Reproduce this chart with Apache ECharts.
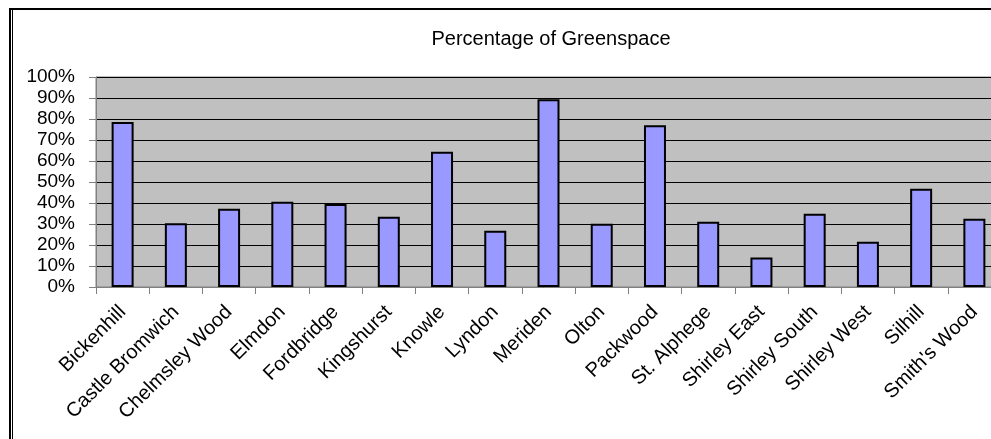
<!DOCTYPE html>
<html>
<head>
<meta charset="utf-8">
<script src="https://cdn.jsdelivr.net/npm/echarts@6/dist/echarts.min.js"></script>
<style>html,body{margin:0;padding:0;background:#fff}#c{width:991px;height:439px}</style>
</head>
<body>
<div id="c"></div>
<script>
var categories = ["Bickenhill","Castle Bromwich","Chelmsley Wood","Elmdon","Fordbridge","Kingshurst","Knowle","Lyndon","Meriden","Olton","Packwood","St. Alphege","Shirley East","Shirley South","Shirley West","Silhill","Smith's Wood"];
var greenspace = [78.6, 30.3, 37.3, 40.6, 39.5, 33.5, 64.4, 26.8, 89.4, 30.1, 77.0, 31.1, 14.0, 34.9, 21.6, 46.8, 32.5];
var yTicks = [0, 10, 20, 30, 40, 50, 60, 70, 80, 90, 100];
var titleText = "Percentage of Greenspace";

var FONT = "Liberation Sans, Arial, sans-serif";
var chart = echarts.init(document.getElementById('c'), null, {renderer: 'canvas'});
chart.setOption({
  animation: false,
  backgroundColor: '#fff',
  title: {
    text: titleText,
    left: 551, top: 29, textAlign: 'center', padding: 0,
    textStyle: {fontFamily: FONT, fontSize: 20, fontWeight: 'normal', color: '#000'}
  },
  graphic: [
    {type: 'line', shape: {x1: 9, y1: 9, x2: 991, y2: 9}, style: {stroke: '#000', lineWidth: 2}, silent: true},
    {type: 'line', shape: {x1: 10, y1: 8, x2: 10, y2: 439}, style: {stroke: '#000', lineWidth: 2}, silent: true},
    {type: 'line', shape: {x1: 12.5, y1: 10, x2: 12.5, y2: 439}, style: {stroke: '#000', lineWidth: 1}, silent: true}
  ],
  grid: {left: 96, top: 77, width: 905, height: 210, outerBoundsMode: 'none', show: true, backgroundColor: '#C0C0C0', borderColor: '#808080', borderWidth: 1, containLabel: false},
  xAxis: {
    type: 'category', data: categories, boundaryGap: true,
    axisLine: {show: true, lineStyle: {color: '#808080', width: 1}},
    axisTick: {show: true, alignWithLabel: false, length: 7, lineStyle: {color: '#808080'}},
    axisLabel: {interval: 0, rotate: 45, margin: 22, fontFamily: FONT, fontSize: 20, color: '#000'},
    splitLine: {show: false}
  },
  yAxis: {
    type: 'value', min: yTicks[0], max: yTicks[yTicks.length - 1], interval: 10,
    axisLine: {show: true, lineStyle: {color: '#808080', width: 1}},
    axisTick: {show: true, inside: false, length: 7, lineStyle: {color: '#808080'}},
    axisLabel: {margin: 21, fontFamily: FONT, fontSize: 19, color: '#000', formatter: function (v) { return v + '%'; }},
    splitLine: {show: true, lineStyle: {color: '#000', width: 1}}
  },
  series: [{
    type: 'bar', data: greenspace, barWidth: 22,
    itemStyle: {color: '#9999FF', borderColor: '#000', borderWidth: 2}
  }]
});
</script>
</body>
</html>
